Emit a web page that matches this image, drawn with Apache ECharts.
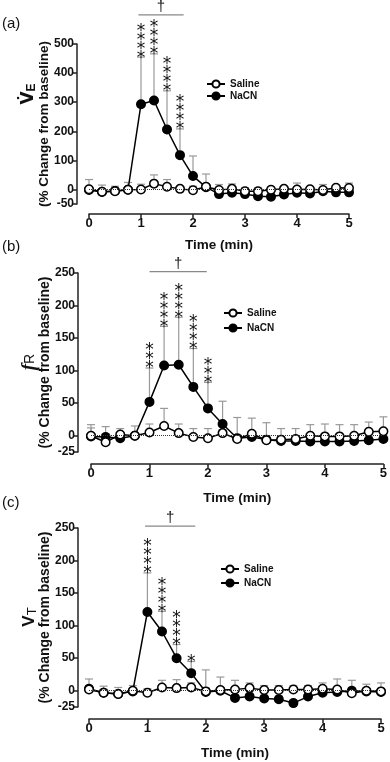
<!DOCTYPE html>
<html>
<head>
<meta charset="utf-8">
<script src="https://cdn.jsdelivr.net/npm/echarts@6/dist/echarts.min.js"></script>
<style>
  html, body { margin: 0; padding: 0; background: #fff; }
  #chart { width: 390px; height: 762px; }
</style>
</head>
<body>
<div id="chart"></div>
<script>
// time points (min)
const time = [0, 0.25, 0.5, 0.75, 1, 1.25, 1.5, 1.75, 2, 2.25, 2.5, 2.75, 3, 3.25, 3.5, 3.75, 4, 4.25, 4.5, 4.75, 5];

// (a) minute ventilation, % change from baseline
const salineVE = [1, -8, -6, -1, 0, 20, 9, 2, -3, 9, -2, 2, -6, -6, -1, 2, 0, 1, -2, 6, 5];
const nacnVE = [-2, -9, -5, -1, 293, 306, 206, 118, 46, 8, -16, -11, -16, -23, -25, -17, -11, -14, -6, -10, -10];
const sdSalineVE = [33, 23, 17, 25, 18, 30, 25, 4, 14, 6, 19, 17, 12, 12, 9, 5, 22, 6, 19, 6, 17];
const sdNacnVE = [5, 5, 5, 5, 162, 160, 133, 90, 69, 45, 6, 6, 6, 6, 6, 6, 6, 6, 6, 6, 6];
const starsVE = [0, 0, 0, 0, 4, 4, 4, 4, 0, 0, 0, 0, 0, 0, 0, 0, 0, 0, 0, 0, 0];

// (b) breathing frequency
const salineFR = [0, -10, 2, 0, 5, 15, 4, -2, -4, 4, -5, 3, -7, -6, -5, 0, -1, -1, 0, 6, 7];
const nacnFR = [-1, -2, -4, 0, 52, 108, 109, 75, 42, 18, -4, -2, -6, -8, -8, -9, -9, -9, -8, -7, -5];
const sdSalineFR = [17, 24, 9, 15, 13, 27, 14, 13, 15, 5, 33, 24, 27, 17, 16, 17, 19, 18, 17, 15, 22];
const sdNacnFR = [13, 5, 5, 5, 52, 60, 73, 59, 40, 35, 6, 6, 6, 6, 6, 6, 6, 6, 6, 6, 6];
const starsFR = [0, 0, 0, 0, 3, 4, 4, 4, 3, 0, 0, 0, 0, 0, 0, 0, 0, 0, 0, 0, 0];

// (c) tidal volume
const salineVT = [2, -3, -5, 0, -3, 5, 4, 5, -1, 1, 2, 4, 1, 1, 2, 2, 3, 2, -4, 0, -1];
const nacnVT = [3, -3, -5, -1, 121, 91, 50, 27, -2, 0, -11, -9, -12, -13, -19, -9, -3, -2, 0, -1, -2];
const sdSalineVT = [16, 10, 10, 8, 6, 11, 13, 7, 5, 20, 14, 8, 7, 7, 6, 6, 9, 16, 20, 10, 13];
const sdNacnVT = [5, 5, 5, 5, 60, 31, 21, 18, 34, 5, 5, 5, 5, 5, 5, 5, 5, 5, 5, 5, 5];
const starsVT = [0, 0, 0, 0, 4, 4, 4, 1, 0, 0, 0, 0, 0, 0, 0, 0, 0, 0, 0, 0, 0];

// y tick labels
const ticksVE = [-50, 0, 100, 200, 300, 400, 500];
const ticksFR = [-25, 0, 50, 100, 150, 200, 250];
const ticksVT = [-25, 0, 50, 100, 150, 200, 250];

// dagger bars: [from, to, level]
const daggerVE = [0.95, 1.82, 600];
const daggerFR = [1.0, 1.98, 252];
const daggerVT = [0.96, 1.82, 253];

const ink = '#111';
const errGray = '#999';

const panels = [
  { grid: { left: 89, top: 44, width: 260, height: 160 }, min: -50, max: 500, ticks: ticksVE,
    sal: salineVE, nac: nacnVE, sdS: sdSalineVE, sdN: sdNacnVE, stars: starsVE, dag: daggerVE,
    yOff: 12, xOff: 10, nameSize: 13.5, legend: { left: 206, top: 78, itemGap: 0 } },
  { grid: { left: 91, top: 273, width: 293, height: 179 }, min: -25, max: 250, ticks: ticksFR,
    sal: salineFR, nac: nacnFR, sdS: sdSalineFR, sdN: sdNacnFR, stars: starsFR, dag: daggerFR,
    yOff: 13, xOff: 12, nameSize: 14, legend: { left: 223, top: 307, itemGap: 3 } },
  { grid: { left: 89, top: 528, width: 292, height: 179 }, min: -25, max: 250, ticks: ticksVT,
    sal: salineVT, nac: nacnVT, sdS: sdSalineVT, sdN: sdNacnVT, stars: starsVT, dag: daggerVT,
    yOff: 11, xOff: 12, nameSize: 14, legend: { left: 220, top: 563, itemGap: 2 } }
];

// vertical upper error bar with cap
function renderErr(params, api) {
  const x = api.value(0), m = api.value(1), sd = api.value(2);
  const p0 = api.coord([x, m]);
  const p1 = api.coord([x, m + sd]);
  const st = { stroke: errGray, lineWidth: 1.2 };
  return {
    type: 'group', children: [
      { type: 'line', shape: { x1: p0[0], y1: p0[1], x2: p1[0], y2: p1[1] }, style: st },
      { type: 'line', shape: { x1: p1[0] - 4, y1: p1[1], x2: p1[0] + 4, y2: p1[1] }, style: st }
    ]
  };
}

// stacked asterisks above the error bar
function renderStars(params, api) {
  const x = api.value(0), top = api.value(1), n = api.value(2);
  const p = api.coord([x, top]);
  const kids = [];
  for (let i = 0; i < n; i++) {
    kids.push({
      type: 'text', x: p[0], y: p[1] + 1 - i * 9,
      style: { text: '*', fontSize: 17, fontFamily: 'DejaVu Sans', fill: ink, align: 'center', verticalAlign: 'middle' }
    });
  }
  return { type: 'group', children: kids };
}

function renderDagger(params, api) {
  const a = api.coord([api.value(0), api.value(2)]);
  const b = api.coord([api.value(1), api.value(2)]);
  return {
    type: 'group', children: [
      { type: 'line', shape: { x1: a[0], y1: a[1], x2: b[0], y2: b[1] }, style: { stroke: '#888', lineWidth: 1.2 } },
      { type: 'text', x: (a[0] + b[0]) / 2, y: a[1] - 8,
        style: { text: '†', fontSize: 15, fontFamily: 'Liberation Sans', fill: ink, align: 'center', verticalAlign: 'middle' } }
    ]
  };
}

const grids = [], xAxes = [], yAxes = [], series = [], legends = [];
panels.forEach((p, i) => {
  grids.push(p.grid);
  xAxes.push({
    gridIndex: i, type: 'value', min: 0, max: 5, interval: 1, offset: p.xOff,
    axisLine: { onZero: false, lineStyle: { color: '#222', width: 1.5 } },
    axisTick: { length: 4, lineStyle: { color: '#222', width: 1.5 } },
    axisLabel: { fontSize: 13, fontWeight: 'bold', color: ink, margin: 3, fontFamily: 'Liberation Sans' },
    splitLine: { show: false },
    name: 'Time (min)', nameLocation: 'middle', nameGap: i === 0 ? 24 : 27,
    nameTextStyle: { fontSize: 13.5, fontWeight: 'bold', color: ink, fontFamily: 'Liberation Sans' }
  });
  yAxes.push({
    gridIndex: i, type: 'value', min: p.min, max: p.max, offset: p.yOff,
    axisLine: { show: true, onZero: false, lineStyle: { color: '#222', width: 1.5 } },
    axisTick: { show: true, length: 4, customValues: p.ticks, lineStyle: { color: '#222', width: 1.5 } },
    axisLabel: { customValues: p.ticks, fontSize: 12, fontWeight: 'bold', color: ink, margin: 3, fontFamily: 'Liberation Sans' },
    splitLine: { show: false },
    name: '(% Change from baseline)', nameLocation: 'middle', nameGap: 26, nameRotate: 90,
    nameMoveOverlap: false,
    nameTextStyle: { fontSize: p.nameSize, fontWeight: 'bold', color: ink, fontFamily: 'Liberation Sans' }
  });
  series.push({
    type: 'custom', xAxisIndex: i, yAxisIndex: i, z: 1, silent: true, clip: false,
    renderItem: renderErr, data: time.map((t, k) => [t, p.nac[k], p.sdN[k]])
  });
  series.push({
    type: 'custom', xAxisIndex: i, yAxisIndex: i, z: 1, silent: true, clip: false,
    renderItem: renderErr, data: time.map((t, k) => [t, p.sal[k], p.sdS[k]])
  });
  series.push({
    name: 'NaCN', type: 'line', xAxisIndex: i, yAxisIndex: i, z: 3,
    symbol: 'circle', symbolSize: 8.5, showSymbol: true,
    lineStyle: { color: '#000', width: 1.5 },
    itemStyle: { color: '#000', borderColor: '#000', borderWidth: 1.5 },
    data: time.map((t, k) => [t, p.nac[k]])
  });
  series.push({
    name: 'Saline', type: 'line', xAxisIndex: i, yAxisIndex: i, z: 4,
    symbol: 'circle', symbolSize: 8.5, showSymbol: true,
    lineStyle: { color: '#000', width: 1.5 },
    itemStyle: { color: '#fff', borderColor: '#000', borderWidth: 1.5 },
    data: time.map((t, k) => [t, p.sal[k]]),
    markLine: {
      silent: true, symbol: 'none', label: { show: false },
      lineStyle: { type: 'dotted', color: '#333', width: 1 },
      data: [{ yAxis: 0 }]
    }
  });
  series.push({
    type: 'custom', xAxisIndex: i, yAxisIndex: i, z: 5, silent: true, clip: false,
    renderItem: renderStars,
    data: time.map((t, k) => [t, p.nac[k] + p.sdN[k], p.stars[k]]).filter(d => d[2] > 0)
  });
  series.push({
    type: 'custom', xAxisIndex: i, yAxisIndex: i, z: 5, silent: true, clip: false,
    renderItem: renderDagger, data: [p.dag]
  });
  legends.push({
    data: ['Saline', 'NaCN'], orient: 'vertical', left: p.legend.left, top: p.legend.top,
    padding: 0, itemGap: p.legend.itemGap, itemWidth: 18, itemHeight: 9, selectedMode: false,
    textStyle: { fontSize: 10, fontWeight: 'bold', color: ink, lineHeight: 12, fontFamily: 'Liberation Sans' }
  });
});

const labelStyle = { fontSize: 15, fill: ink, fontFamily: 'Liberation Sans' };
const chart = echarts.init(document.getElementById('chart'));
chart.setOption({
  animation: false,
  backgroundColor: '#fff',
  grid: grids,
  xAxis: xAxes,
  yAxis: yAxes,
  legend: legends,
  series: series,
  graphic: [
    { type: 'text', left: 2, top: 16, style: Object.assign({ text: '(a)' }, labelStyle) },
    { type: 'text', left: 2, top: 239, style: Object.assign({ text: '(b)' }, labelStyle) },
    { type: 'text', left: 2, top: 495, style: Object.assign({ text: '(c)' }, labelStyle) },
    { type: 'text', x: 29, y: 94, rotation: Math.PI / 2,
      style: { text: '{v|V\u0307}{s|E}', align: 'center', verticalAlign: 'middle',
        rich: { v: { fontSize: 17, fontWeight: 'bold', fill: ink, fontFamily: 'DejaVu Sans' },
                s: { fontSize: 12, fontWeight: 'bold', fill: ink, fontFamily: 'Liberation Sans', padding: [6, 0, 0, 0] } } } },
    { type: 'text', x: 29, y: 362, rotation: Math.PI / 2,
      style: { text: '{f|f}{s|R}', align: 'center', verticalAlign: 'middle',
        rich: { f: { fontSize: 19, fontWeight: 'bold', fontStyle: 'italic', fill: ink, fontFamily: 'Liberation Serif' },
                s: { fontSize: 14, fill: ink, fontFamily: 'Liberation Sans', padding: [3, 0, 0, 0] } } } },
    { type: 'text', x: 29, y: 617, rotation: Math.PI / 2,
      style: { text: '{v|V}{s|T}', align: 'center', verticalAlign: 'middle',
        rich: { v: { fontSize: 17, fontWeight: 'bold', fill: ink, fontFamily: 'Liberation Sans' },
                s: { fontSize: 13, fill: ink, fontFamily: 'Liberation Sans', padding: [7, 0, 0, 0] } } } }
  ]
});
</script>
</body>
</html>
